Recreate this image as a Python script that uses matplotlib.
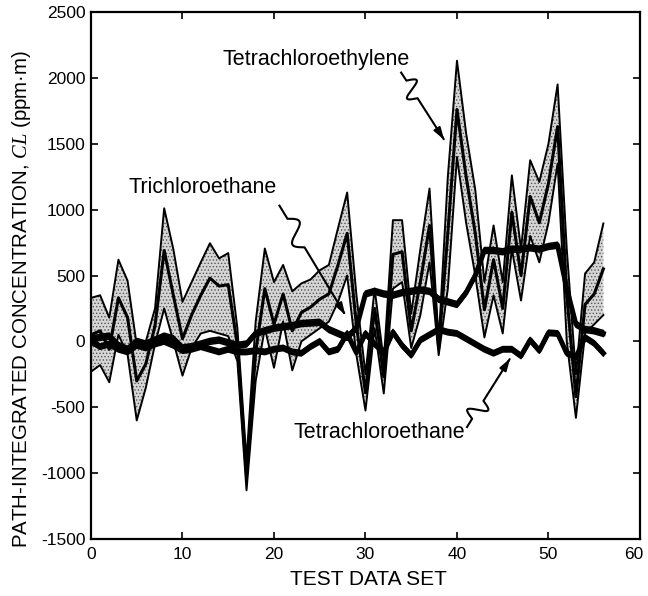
import numpy as np
import matplotlib
matplotlib.use("Agg")
import matplotlib.pyplot as plt
from matplotlib.transforms import ScaledTranslation

plt.rcParams['font.family'] = ['Liberation Sans', 'DejaVu Sans']
plt.rcParams['mathtext.fontset'] = 'custom'
plt.rcParams['mathtext.it'] = 'Liberation Serif:italic'
plt.rcParams['mathtext.rm'] = 'Liberation Sans'
plt.rcParams['axes.unicode_minus'] = False
plt.rcParams['hatch.linewidth'] = 0.6

# ---------------- data ----------------
test_set = list(range(57))

# Tetrachloroethylene: upper / lower band and central estimate
pce_upper = [330, 350, 180, 620, 460, -30, 0, 250, 1010, 700,
             300, 450, 600, 745, 630, 670, 100, -900, 150, 705,
             450, 580, 380, 440, 470, 540, 580, 860, 1130, 360,
             -250, 400, -150, 920, 920, 210, 700, 1160, 0, 1250,
             2130, 1580, 1150, 450, 880, 450, 1260, 700, 1375, 1210,
             1500, 1950, 700, -250, 515, 600, 895]
pce_lower = [-230, -180, -310, 50, -100, -600, -350, -20, 250, 0,
             -260, -50, 60, 80, 60, 40, -150, -1130, -300, 100,
             -200, 150, -220, 0, 50, 100, 150, 300, 500, -100,
             -525, 100, -395, 400, 450, -50, 200, 600, -105, 400,
             1400, 900, 500, 30, 350, 60, 700, 310, 800, 600,
             900, 1350, 0, -580, 60, 130, 200]
pce_mid = [50, 80, -60, 330, 180, -300, -170, 120, 690, 350,
           20, 200, 350, 480, 420, 430, -30, -1020, -80, 400,
           130, 360, 80, 220, 260, 320, 360, 580, 820, 130,
           -390, 250, -270, 660, 680, 80, 450, 880, -50, 820,
           1760, 1250, 820, 240, 620, 250, 980, 500, 1100, 900,
           1200, 1630, 350, -420, 280, 360, 550]

# Trichloroethane central estimate
tca = [20, 30, 40, -30, -60, 0, -20, 10, 40, 20,
       -50, -40, -20, 0, 10, -10, -30, -20, 60, 80,
       100, 110, 120, 135, 140, 145, 90, 60, 30, 100,
       360, 380, 360, 350, 370, 380, 390, 380, 320, 300,
       280, 370, 500, 690, 690, 680, 700, 700, 710, 700,
       720, 730, 400, 130, 90, 80, 60]
tca_halfwidth = 22

# Tetrachloroethane central estimate
teca = [0, -40, -20, -60, -80, -30, -50, -20, 0, -30,
        -70, -60, -40, -60, -80, -60, -80, -80, -70, -80,
        -60, -50, -80, -90, -40, 0, -80, -60, 60, -85,
        60, -20, -85, 70, -30, -105, 10, 50, 90, 70,
        60, 20, -20, -60, -90, -60, -60, -110, 10, -70,
        65, 60, -90, -120, 30, -15, -90]
teca_halfwidth = 20

x_ticks = [0, 10, 20, 30, 40, 50, 60]
y_ticks = [-1500, -1000, -500, 0, 500, 1000, 1500, 2000, 2500]

# annotations: (text, text position, arrow start, arrow tip)
annotations = [
    ("Tetrachloroethylene", (24.6, 2136), (33.9, 2040), (38.6, 1530)),
    ("Trichloroethane", (12.2, 1170), (20.6, 1030), (27.8, 200)),
    ("Tetrachloroethane", (31.5, -690), (41.1, -650), (45.8, -130)),
]

# ---------------- figure ----------------
fig = plt.figure(figsize=(6.48, 5.96), dpi=100)
ax = fig.add_axes([0.1404, 0.0956, 0.8472, 0.8843])

x = np.array(test_set)
ax.fill_between(x, pce_lower, pce_upper, facecolor='#d6d6d6',
                hatch='.....', edgecolor='#555555', linewidth=0, zorder=1)
ax.plot(x, pce_upper, color='black', lw=1.4, zorder=2)
ax.plot(x, pce_lower, color='black', lw=1.4, zorder=2)
ax.plot(x, pce_mid, color='black', lw=2.2, zorder=2)

for series, hw in ((tca, tca_halfwidth), (teca, teca_halfwidth)):
    s = np.array(series)
    ax.fill_between(x, s - hw, s + hw, facecolor='#d6d6d6', hatch='....',
                    edgecolor='#555555', linewidth=0, zorder=3)
    ax.plot(x, s - hw, color='black', lw=1.2, zorder=4)
    ax.plot(x, s + hw, color='black', lw=1.2, zorder=4)
    ax.plot(x, s, color='black', lw=3.6, zorder=5)

ax.set_xlim(0, 60)
ax.set_ylim(-1500, 2500)
ax.set_xticks(x_ticks)
ax.set_yticks(y_ticks)
ax.tick_params(direction='in', length=5, width=1.2, top=True, right=True,
               labelsize=12.5)
ax.tick_params(axis='x', pad=6)
ax.tick_params(axis='y', pad=4)
for sp in ax.spines.values():
    sp.set_linewidth(1.6)

# last x tick label sits slightly inside, as in the reference
last = ax.get_xticklabels()[-1]
last.set_transform(last.get_transform() + ScaledTranslation(-6 / 100, 0, fig.dpi_scale_trans))

ax.set_xlabel("TEST DATA SET", fontsize=15)
ax.xaxis.set_label_coords(0.505, -0.058)
ax.set_ylabel(r"PATH-INTEGRATED CONCENTRATION, $\mathit{CL}$ (ppm·m)",
              fontsize=14.8)
ax.yaxis.set_label_coords(-0.106, 0.455)


def squiggle_arrow(ax, start, tip, f0=0.12, f1=0.38, amp=9):
    s = ax.transData.transform(start)
    e = ax.transData.transform(tip)
    d = e - s
    L = np.hypot(*d)
    u = d / L
    n = np.array([-u[1], u[0]])
    t = np.linspace(0, 1, 300)
    disp = np.where((t > f0) & (t < f1),
                    amp * np.sin(2 * np.pi * (t - f0) / (f1 - f0)), 0.0)
    pts = s[None, :] + t[:, None] * d[None, :] + disp[:, None] * n[None, :]
    dpts = ax.transData.inverted().transform(pts)
    ax.plot(dpts[:-12, 0], dpts[:-12, 1], color='black', lw=1.5, zorder=6)
    ax.annotate('', xy=tip, xytext=tuple(dpts[-14]),
                arrowprops=dict(arrowstyle='-|>,head_length=0.7,head_width=0.22',
                                color='black', lw=1.5), zorder=6)


for label, tpos, astart, atip in annotations:
    ax.text(tpos[0], tpos[1], label, fontsize=15.5, ha='center', va='center',
            zorder=7)
    squiggle_arrow(ax, astart, atip)

fig.savefig("out.png", dpi=100)
